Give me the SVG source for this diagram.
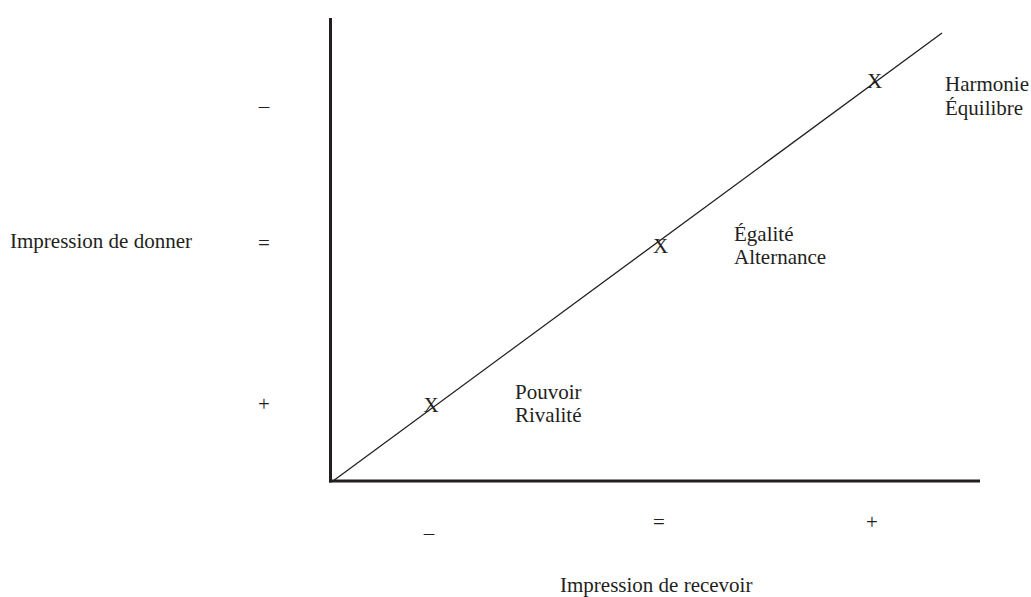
<svg xmlns="http://www.w3.org/2000/svg" width="1031" height="597" viewBox="0 0 1031 597">
<style>
text{font-family:"Liberation Serif","Times New Roman",serif;font-size:21px;fill:#231f20}
.m{text-anchor:middle}
.ax{stroke:#231f20;stroke-width:3;fill:none}
.dg{stroke:#231f20;stroke-width:1.3;fill:none}
</style>
<rect width="1031" height="597" fill="#fff"/>
<g id="connectors">
<line class="ax" x1="330.5" y1="18" x2="330.5" y2="482.5"/>
<line class="ax" x1="329" y1="481" x2="980" y2="481"/>
<line class="dg" x1="333" y1="481" x2="942" y2="33"/>
</g>
<g id="axis-y-label"><text x="10" y="248">Impression de donner</text></g>
<g id="axis-x-label"><text x="560" y="592">Impression de recevoir</text></g>
<g id="y-ticks">
<text class="m" x="264" y="113">–</text>
<text class="m" x="264" y="250">=</text>
<text class="m" x="264" y="411">+</text>
</g>
<g id="x-ticks">
<text class="m" x="429" y="540">–</text>
<text class="m" x="659" y="529">=</text>
<text class="m" x="872" y="529">+</text>
</g>
<g id="point-1"><text class="m" x="431" y="412">X</text><text x="515" y="399">Pouvoir</text><text x="515" y="422">Rivalité</text></g>
<g id="point-2"><text class="m" x="660.5" y="253">X</text><text x="734" y="241">Égalité</text><text x="734" y="264">Alternance</text></g>
<g id="point-3"><text class="m" x="874.5" y="88">X</text><text x="945" y="91">Harmonie</text><text x="945" y="115">Équilibre</text></g>
</svg>
